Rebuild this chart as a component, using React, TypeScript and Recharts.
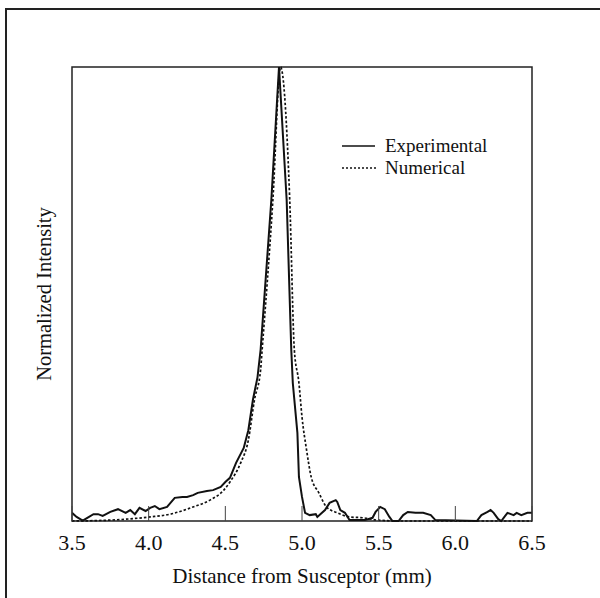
import React from 'react';
import { Legend, Line, LineChart, ReferenceArea, XAxis, YAxis } from 'recharts';

// distance (mm) and normalized intensity
const expX = [3.5, 3.53, 3.57, 3.6, 3.64, 3.67, 3.7, 3.75, 3.8, 3.85, 3.88, 3.91, 3.94, 3.98, 4.01, 4.04, 4.07, 4.12, 4.17, 4.22, 4.25, 4.29, 4.32, 4.38, 4.42, 4.47, 4.5, 4.53, 4.57, 4.62, 4.65, 4.68, 4.71, 4.73, 4.8, 4.85, 4.9, 4.93, 4.94, 4.97, 4.98, 5.0, 5.02, 5.05, 5.09, 5.1, 5.15, 5.18, 5.22, 5.23, 5.25, 5.28, 5.31, 5.41, 5.46, 5.48, 5.51, 5.54, 5.57, 5.59, 5.63, 5.66, 5.69, 5.74, 5.79, 5.84, 5.87, 6.14, 6.17, 6.21, 6.23, 6.25, 6.28, 6.3, 6.32, 6.34, 6.38, 6.4, 6.43, 6.47, 6.5];
const expY = [0.018, 0.009, 0.001, 0.007, 0.015, 0.015, 0.011, 0.02, 0.026, 0.018, 0.024, 0.015, 0.029, 0.022, 0.029, 0.033, 0.026, 0.031, 0.051, 0.053, 0.053, 0.057, 0.062, 0.066, 0.068, 0.075, 0.086, 0.095, 0.128, 0.161, 0.2, 0.267, 0.317, 0.377, 0.707, 1.0, 0.707, 0.377, 0.304, 0.194, 0.097, 0.053, 0.018, 0.013, 0.015, 0.009, 0.024, 0.04, 0.046, 0.042, 0.024, 0.018, 0.002, 0.002, 0.007, 0.02, 0.031, 0.026, 0.009, 0.0, 0.0, 0.013, 0.02, 0.018, 0.018, 0.013, 0.002, 0.0, 0.013, 0.02, 0.024, 0.018, 0.004, 0.0, 0.009, 0.018, 0.013, 0.018, 0.013, 0.018, 0.018];

const numX = [3.5, 3.75, 4.01, 4.14, 4.29, 4.4, 4.49, 4.53, 4.6, 4.65, 4.69, 4.73, 4.74, 4.81, 4.86, 4.92, 4.95, 4.98, 5.0, 5.03, 5.06, 5.11, 5.16, 5.23, 5.31, 5.4, 5.49, 5.64, 6.0, 6.5];
const numY = [0.0, 0.002, 0.009, 0.015, 0.031, 0.046, 0.068, 0.086, 0.128, 0.178, 0.267, 0.333, 0.377, 0.707, 1.0, 0.707, 0.377, 0.304, 0.229, 0.156, 0.097, 0.062, 0.031, 0.018, 0.009, 0.007, 0.002, 0.0, 0.0, 0.0];

const xTicks = [3.5, 4.0, 4.5, 5.0, 5.5, 6.0, 6.5];

const expData = expX.map((x, i) => ({ x, y: expY[i] }));
const numData = numX.map((x, i) => ({ x, y: numY[i] }));

const font = '"Liberation Serif", "Times New Roman", serif';

const renderLegend = () => (
  <div style={{ fontFamily: font, fontSize: 19, color: '#111', lineHeight: '22px' }}>
    <div style={{ display: 'flex', alignItems: 'center' }}>
      <svg width={43} height={22}>
        <line x1={0} x2={33} y1={11} y2={11} stroke="#111" strokeWidth={1.5} />
      </svg>
      <span>Experimental</span>
    </div>
    <div style={{ display: 'flex', alignItems: 'center' }}>
      <svg width={43} height={22}>
        <line x1={0} x2={34} y1={11} y2={11} stroke="#111" strokeWidth={1.5} strokeDasharray="2 2" />
      </svg>
      <span>Numerical</span>
    </div>
  </div>
);

export default function App() {
  return (
    <div style={{ position: 'absolute', left: 0, top: 0, width: 600, height: 598, overflow: 'hidden', background: '#fff' }}>
      <div style={{ position: 'absolute', left: 5, top: 8, width: 620, height: 620, border: '2px solid #222' }} />
      <div style={{ position: 'absolute', left: 0, top: 0 }}>
        <LineChart width={600} height={598} margin={{ top: 67, right: 68, left: 16, bottom: 0 }}>
          <XAxis
            dataKey="x"
            type="number"
            domain={[3.5, 6.5]}
            ticks={xTicks}
            allowDataOverflow
            tickFormatter={(v: number) => v.toFixed(1)}
            height={77}
            tickSize={-15}
            tickMargin={28}
            axisLine={false}
            tickLine={{ stroke: '#444', strokeWidth: 1 }}
            tick={{ fill: '#111', fontSize: 22, fontFamily: font }}
            label={{ value: 'Distance from Susceptor (mm)', position: 'insideBottom', offset: 15, fill: '#111', fontSize: 21, fontFamily: font }}
          />
          <YAxis
            type="number"
            domain={[0, 1]}
            width={56}
            tick={false}
            tickLine={false}
            axisLine={false}
            label={{ value: 'Normalized Intensity', angle: -90, position: 'center', fill: '#111', fontSize: 20.5, fontFamily: font }}
          />
          <ReferenceArea x1={3.5} x2={6.5} y1={0} y2={1} fill="none" stroke="#222" strokeWidth={1.5} ifOverflow="visible" />
          <Legend layout="vertical" align="center" verticalAlign="middle" content={renderLegend} wrapperStyle={{ left: 342, top: 135, width: 180 }} />
          <Line data={expData} dataKey="y" type="linear" stroke="#111" strokeWidth={2} dot={false} isAnimationActive={false} />
          <Line data={numData} dataKey="y" type="monotone" stroke="#111" strokeWidth={1.7} strokeDasharray="2.5 2" dot={false} isAnimationActive={false} />
        </LineChart>
      </div>
    </div>
  );
}
